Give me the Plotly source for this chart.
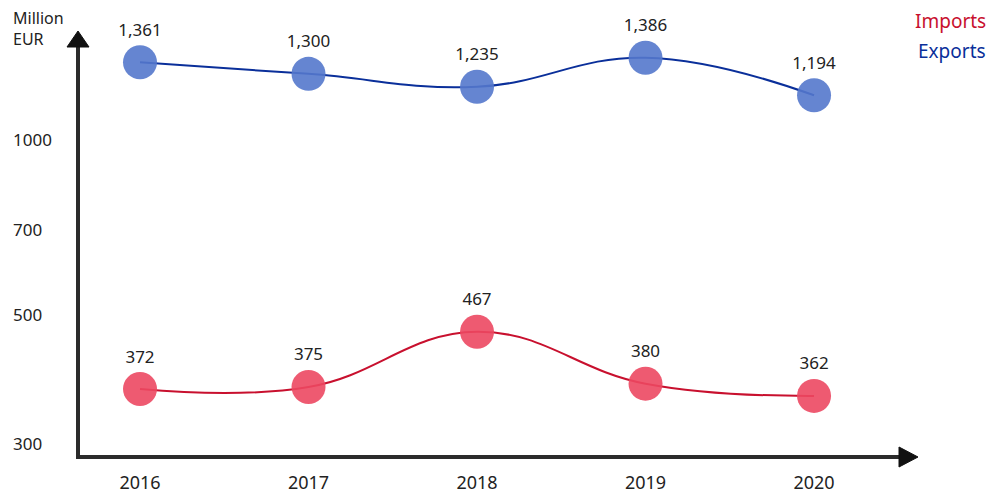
import plotly.graph_objects as go
import math

years = [2016, 2017, 2018, 2019, 2020]
imports = [372, 375, 467, 380, 362]
exports = [1361, 1300, 1235, 1386, 1194]
y_ticks = [300, 500, 700, 1000]
series_names = ["Imports", "Exports"]

FONT = "Noto Sans"
W, H = 989, 497
L, R, T, B = 78, 72, 20, 40
PW = W - L - R
PH = H - T - B

def px(xp):
    return (xp - L) / PW

def py(yp):
    return (H - B - yp) / PH

imp_line, imp_mark = "#c8102e", "rgba(236,72,98,0.9)"
exp_line, exp_mark = "#0a2f9a", "rgba(84,120,204,0.9)"

fig = go.Figure()
for name, vals, lc, mc in [("Imports", imports, imp_line, imp_mark),
                           ("Exports", exports, exp_line, exp_mark)]:
    fig.add_trace(go.Scatter(
        x=years, y=vals, name=name, mode="lines+markers+text",
        line=dict(color=lc, width=2, shape="spline", smoothing=1.2),
        marker=dict(size=34, color=mc, line=dict(width=0)),
        text=[f"{v:,}" for v in vals], textposition="top center",
        textfont=dict(family=FONT, size=17, color="#222"),
        cliponaxis=False, showlegend=False, hoverinfo="skip",
    ))

shapes = [
    dict(type="line", xref="paper", yref="paper", x0=0, x1=0, y0=0, y1=py(46),
         line=dict(color="#2b2b2b", width=4)),
    dict(type="path", xref="paper", yref="paper",
         path=f"M {px(67)} {py(47)} L {px(78)} {py(31)} L {px(89)} {py(47)} Z",
         fillcolor="#111", line=dict(color="#111", width=1)),
    dict(type="line", xref="paper", yref="paper", x0=px(76), x1=px(902), y0=0, y1=0,
         line=dict(color="#2b2b2b", width=4)),
    dict(type="path", xref="paper", yref="paper",
         path=f"M {px(899)} {py(447)} L {px(918)} {py(457)} L {px(899)} {py(467)} Z",
         fillcolor="#111", line=dict(color="#111", width=1)),
]

annotations = []
for t in y_ticks:
    annotations.append(dict(x=px(11), y=math.log10(t), xref="paper", yref="y",
                            text=str(t), showarrow=False, xanchor="left", yanchor="middle",
                            font=dict(family=FONT, size=17, color="#222")))
annotations.append(dict(x=px(11), y=py(28), xref="paper", yref="paper",
                        text="Million<br>EUR", showarrow=False, xanchor="left", yanchor="middle",
                        align="left", font=dict(family=FONT, size=16, color="#222")))
for i, (name, col) in enumerate(zip(series_names, [imp_line, exp_line])):
    annotations.append(dict(x=px(988), y=py(21 + 30 * i), xref="paper", yref="paper",
                            text=name, showarrow=False, xanchor="right", yanchor="middle",
                            font=dict(family=FONT, size=19, color=col)))

fig.update_layout(
    width=W, height=H,
    margin=dict(l=L, r=R, t=T, b=B, autoexpand=False),
    paper_bgcolor="white", plot_bgcolor="white",
    shapes=shapes, annotations=annotations, hovermode=False,
    xaxis=dict(range=[2015.632, 2020.611], tickvals=years, ticktext=[str(y) for y in years],
               showgrid=False, zeroline=False, showline=False, automargin=False,
               ticks="", ticklabelstandoff=13,
               tickfont=dict(family=FONT, size=18, color="#222")),
    yaxis=dict(type="log", range=[math.log10(284), math.log10(1610)], automargin=False,
               showgrid=False, zeroline=False, showline=False,
               showticklabels=False, ticks=""),
)

fig.write_html("out.html", config={"displayModeBar": False},
               post_script="document.body.style.margin='0';")
